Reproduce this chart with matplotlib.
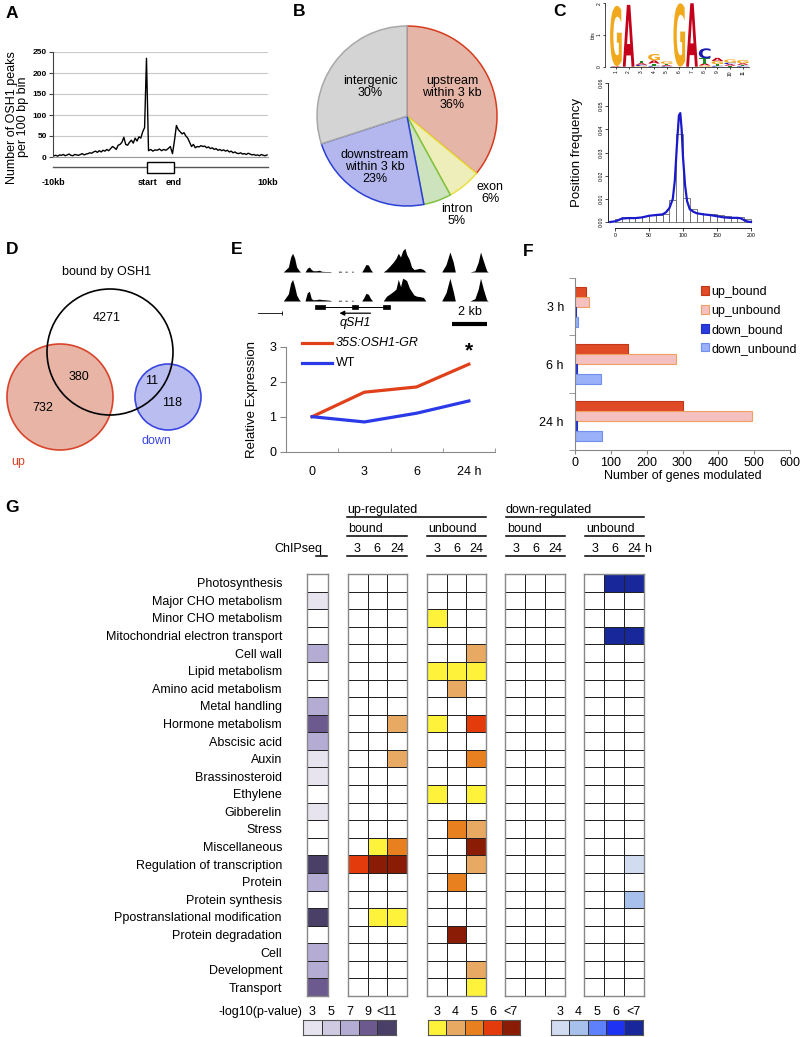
import numpy as np
import matplotlib
matplotlib.use('Agg')
import matplotlib.pyplot as plt
from matplotlib.colors import ListedColormap
from matplotlib.patches import Circle, Rectangle, PathPatch
from matplotlib.textpath import TextPath
from matplotlib.font_manager import FontProperties
from matplotlib.transforms import Affine2D

plt.rcParams['font.family'] = ['Liberation Sans', 'DejaVu Sans']

# ---------------- DATA ----------------
# A: OSH1 peak profile (peaks per 100 bp bin)
up_prof = [3, 4, 2, 5, 4, 6, 3, 5, 7, 4, 3, 6, 5, 4, 6, 8, 5, 7,
           8, 10, 9, 12, 14, 11, 15, 12, 16, 14, 18, 15, 20,
           25, 22, 18, 28, 30, 35, 47,
           30, 28, 35, 40, 33, 45, 38, 48, 45, 60, 70, 235]
gene_prof = [15, 18, 14, 17, 16, 19, 15, 18, 16, 20, 25, 8]
down_prof = [40, 75, 65, 60, 55, 58, 50, 45, 35, 25, 30,
             22, 25, 24, 27, 25, 26, 22, 24, 20, 22,
             18, 20, 16, 18, 15, 17, 14, 16, 12, 14,
             10, 12, 9, 8, 10, 7, 8, 6, 9, 7,
             5, 6, 4, 5, 3, 6, 4, 3, 5]
profile_ticklabels = ['-10kb', 'start', 'end', '10kb']

# B: peak distribution
pie_labels = ['upstream\nwithin 3 kb\n36%', 'exon\n6%', 'intron\n5%',
              'downstream\nwithin 3 kb\n23%', 'intergenic\n30%']
pie_vals = [36, 6, 5, 23, 30]

# C: motif logo (bits) and position frequency
logo_pos = [1, 2, 3, 4, 5, 6, 7, 8, 9, 10, 11]
logo_G = [1.9, 0.0, 0.02, 0.2, 0.08, 2.0, 0.0, 0.04, 0.1, 0.1, 0.1]
logo_A = [0.02, 1.95, 0.05, 0.1, 0.03, 0.0, 2.0, 0.06, 0.1, 0.05, 0.05]
logo_C = [0.0, 0.0, 0.04, 0.03, 0.02, 0.0, 0.0, 0.32, 0.03, 0.05, 0.03]
logo_T = [0.0, 0.0, 0.08, 0.07, 0.04, 0.0, 0.0, 0.16, 0.05, 0.03, 0.03]
hist_left = [0, 10, 20, 30, 40, 50, 60, 70, 80, 90, 100, 110, 120, 130, 140, 150, 160, 170, 180, 190]
hist_vals = [0.0015, 0.002, 0.002, 0.002, 0.0025, 0.003, 0.003, 0.0035, 0.0095, 0.038,
             0.0105, 0.0055, 0.004, 0.0035, 0.0033, 0.003, 0.0025, 0.002, 0.002, 0.0015]
dens_x = [-7, 0, 5, 10, 20, 30, 40, 50, 60, 70, 75, 80, 85, 88, 91, 94, 96, 98, 100, 103,
          106, 110, 115, 120, 130, 140, 150, 160, 170, 180, 185, 190, 195, 200]
dens_y = [0.0, 0.0003, 0.0008, 0.0015, 0.0017, 0.0017, 0.002, 0.0027, 0.003, 0.0033, 0.0042,
          0.006, 0.01, 0.018, 0.033, 0.046, 0.047, 0.04, 0.028, 0.016, 0.009, 0.0055, 0.0045,
          0.0038, 0.0033, 0.003, 0.0025, 0.002, 0.0018, 0.0018, 0.0016, 0.0008, 0.0002, 0.0]

# D: Venn counts
venn_labels = ['bound only', 'up & bound', 'up only', 'down & bound', 'down only']
venn_values = [4271, 380, 732, 11, 118]

# E: ChIP-seq tracks (kb, relative height) and qRT-PCR
track_x = [0, 0.29, 0.42, 0.53, 0.65, 0.76, 0.91, 0.99,
           1.24, 1.37, 1.49, 1.6, 1.71, 1.9, 2.06, 2.19, 2.38, 2.67, 2.76,
           3.14, 3.15, 3.32, 3.33, 3.52, 3.53, 3.65, 3.66, 3.9, 3.91, 3.99, 4.0,
           4.48, 4.61, 4.72, 4.86, 4.99, 5.1,
           5.71, 5.9, 6.1, 6.29, 6.44, 6.57, 6.7, 6.82, 6.95, 7.05, 7.2, 7.33, 7.47, 7.62, 7.81, 8.0, 8.15,
           9.05, 9.3, 9.52, 9.71, 9.83,
           10.67, 10.95, 11.14, 11.27, 11.43, 11.62, 11.71]
track1_h = [0, 0.2, 0.6, 0.75, 0.55, 0.2, 0.05, 0,
            0, 0.15, 0.2, 0.1, 0.05, 0.05, 0.07, 0.03, 0.02, 0.02, 0,
            0, 0.03, 0.03, 0, 0, 0.03, 0.03, 0, 0, 0.03, 0.03, 0,
            0, 0.15, 0.3, 0.28, 0.1, 0,
            0, 0.1, 0.25, 0.4, 0.55, 0.75, 0.6, 0.85, 0.95, 0.7, 0.5, 0.2, 0.1, 0.12, 0.15, 0.1, 0,
            0, 0.3, 0.8, 0.4, 0,
            0, 0.05, 0.4, 0.8, 0.45, 0.05, 0]
track2_h = [0, 0.3, 0.75, 0.9, 0.6, 0.25, 0.05, 0,
            0, 0.35, 0.4, 0.1, 0.05, 0.06, 0.08, 0.06, 0.05, 0.03, 0,
            0, 0.03, 0.03, 0, 0, 0.03, 0.03, 0, 0, 0.03, 0.03, 0,
            0, 0.15, 0.32, 0.28, 0.1, 0,
            0, 0.2, 0.3, 0.4, 0.5, 0.9, 0.6, 0.95, 0.9, 0.85, 0.55, 0.4, 0.25, 0.2, 0.18, 0.15, 0,
            0, 0.35, 0.95, 0.4, 0,
            0, 0.1, 0.5, 0.95, 0.5, 0.05, 0]
exon_start = [1.81, 3.9, 5.68]
exon_end = [2.38, 4.29, 6.1]
time_labels = ['0', '3', '6', '24 h']
expr_gr = [1.0, 1.7, 1.85, 2.5]
expr_wt = [1.0, 0.85, 1.1, 1.45]

# F: number of genes modulated
f_times = ['3 h', '6 h', '24 h']
f_series = ['up_bound', 'up_unbound', 'down_bound', 'down_unbound']
up_bound_n = [31, 148, 302]
up_unbound_n = [40, 282, 493]
down_bound_n = [2, 5, 5]
down_unbound_n = [7, 73, 75]

# G: enrichment heatmap (levels 0 = n.s., 1..5 = legend bins)
categories = ['Photosynthesis', 'Major CHO metabolism', 'Minor CHO metabolism',
              'Mitochondrial electron transport', 'Cell wall', 'Lipid metabolism',
              'Amino acid metabolism', 'Metal handling', 'Hormone metabolism', 'Abscisic acid',
              'Auxin', 'Brassinosteroid', 'Ethylene', 'Gibberelin', 'Stress', 'Miscellaneous',
              'Regulation of transcription', 'Protein', 'Protein synthesis',
              'Ppostranslational modification', 'Protein degradation', 'Cell', 'Development',
              'Transport']
chipseq = [0, 1, 0, 0, 3, 0, 0, 3, 4, 3, 1, 1, 0, 1, 0, 0, 5, 3, 0, 5, 0, 3, 3, 4]
up_bound = [[0, 0, 0], [0, 0, 0], [0, 0, 0], [0, 0, 0], [0, 0, 0], [0, 0, 0],
            [0, 0, 0], [0, 0, 0], [0, 0, 2], [0, 0, 0], [0, 0, 2], [0, 0, 0],
            [0, 0, 0], [0, 0, 0], [0, 0, 0], [0, 1, 3], [4, 5, 5], [0, 0, 0],
            [0, 0, 0], [0, 1, 1], [0, 0, 0], [0, 0, 0], [0, 0, 0], [0, 0, 0]]
up_unbound = [[0, 0, 0], [0, 0, 0], [1, 0, 0], [0, 0, 0], [0, 0, 2], [1, 1, 1],
              [0, 2, 0], [0, 0, 0], [1, 0, 4], [0, 0, 0], [0, 0, 3], [0, 0, 0],
              [1, 0, 1], [0, 0, 0], [0, 3, 2], [0, 0, 5], [0, 0, 2], [0, 3, 0],
              [0, 0, 0], [0, 0, 0], [0, 5, 0], [0, 0, 0], [0, 0, 2], [0, 0, 1]]
down_bound = [[0, 0, 0]] * 24
down_unbound = [[0, 5, 5], [0, 0, 0], [0, 0, 0], [0, 5, 5], [0, 0, 0], [0, 0, 0],
                [0, 0, 0], [0, 0, 0], [0, 0, 0], [0, 0, 0], [0, 0, 0], [0, 0, 0],
                [0, 0, 0], [0, 0, 0], [0, 0, 0], [0, 0, 0], [0, 0, 1], [0, 0, 0],
                [0, 0, 2], [0, 0, 0], [0, 0, 0], [0, 0, 0], [0, 0, 0], [0, 0, 0]]
purple_labels = ['3', '5', '7', '9', '<11']
orange_labels = ['3', '4', '5', '6', '<7']
blue_labels = ['3', '4', '5', '6', '<7']

# ---------------- STYLE ----------------
PURPLES = ['#e7e4f0', '#cfc9e2', '#b5acd3', '#6c5a8f', '#4a3f66']
ORANGES = ['#fef33a', '#e8aa62', '#e8801f', '#e33b0c', '#8a1c05']
BLUES = ['#d1dcf1', '#a7c1ec', '#5f80fb', '#1e32f4', '#18279a']
RED = '#e0401a'
BLUE = '#2a3ae8'

W, H = 800, 1037
fig = plt.figure(figsize=(W / 100, H / 100), dpi=100)


def ax_px(x0, y0, x1, y1):
    return fig.add_axes([x0 / W, 1 - y1 / H, (x1 - x0) / W, (y1 - y0) / H])


ov = ax_px(0, 0, W, H)
ov.set_xlim(0, W)
ov.set_ylim(H, 0)
ov.axis('off')
ov.patch.set_visible(False)
ov.set_zorder(10)

for lab, (lx, ly) in zip('ABCDEFG', [(12, 13), (299, 12), (560, 12), (12, 250),
                                      (237, 250), (528, 252), (12, 507)]):
    ov.text(lx, ly, lab, fontsize=12.5, fontweight='bold', ha='center', va='center')

# ---------------- A ----------------
GENE_W = 2.77
axA = ax_px(53, 52, 268, 157)
n_up, n_g, n_d = len(up_prof), len(gene_prof), len(down_prof)
xa = np.concatenate([-10 + 10 * (np.arange(n_up) + 0.5) / n_up,
                     GENE_W * (np.arange(n_g) + 0.5) / n_g,
                     GENE_W + 10 * (np.arange(n_d) + 0.5) / n_d])
ya = np.concatenate([up_prof, gene_prof, down_prof])
axA.plot(xa, ya, color='black', lw=1.0)
axA.set_xlim(-10, 10 + GENE_W)
axA.set_ylim(0, 250)
axA.set_yticks([0, 50, 100, 150, 200, 250])
axA.yaxis.grid(True, color='#c8c8c8', lw=0.8)
axA.set_axisbelow(True)
for s in ['top', 'right']:
    axA.spines[s].set_visible(False)
axA.spines['left'].set_color('#444')
axA.spines['bottom'].set_color('#999')
narrow = ['Liberation Sans Narrow', 'Liberation Sans', 'DejaVu Sans']
axA.tick_params(axis='y', labelsize=6, length=3, color='#444', pad=1.5)
for t in axA.get_yticklabels():
    t.set_fontfamily(narrow)
    t.set_fontweight('bold')
axA.set_xticks([-10, 0, GENE_W, 10 + GENE_W])
axA.set_xticklabels(profile_ticklabels, fontsize=6.5, fontweight='bold', family=narrow)
axA.tick_params(axis='x', length=0, pad=15)
ypx = 250 / 105.0
axA.plot([-10, 10 + GENE_W], [-10 * ypx, -10 * ypx], color='#555', lw=1, clip_on=False)
axA.add_patch(Rectangle((0, -15.5 * ypx), GENE_W, 11 * ypx, fc='white', ec='black',
                        lw=1, clip_on=False, zorder=3))
axA.set_ylabel('Number of OSH1 peaks\nper 100 bp bin', fontsize=9, linespacing=0.9)
axA.yaxis.set_label_coords(-0.11, 0.38)

# ---------------- B ----------------
R = 90.0
axB = ax_px(407 - 92, 116 - 92, 407 + 92, 116 + 92)
pie_fill = ['#e5b5a8', '#eeeebb', '#cde3bd', '#b3b7ee', '#d4d4d4']
pie_edge = ['#d63b1e', '#e8e040', '#7fc040', '#2b3fd6', '#a8a8a8']
wedges, _ = axB.pie(pie_vals, startangle=90, counterclock=False, colors=pie_fill,
                    wedgeprops=dict(linewidth=1.1))
for w, ec in zip(wedges, pie_edge):
    w.set_edgecolor(ec)
axB.set_xlim(-92 / R, 92 / R)
axB.set_ylim(-92 / R, 92 / R)
pie_txt_pos = [(452, 93), (490, 193), (457, 215), (375, 167), (370, 87)]
for lab, (px, py) in zip(pie_labels, pie_txt_pos):
    axB.text((px - 407) / R, (116 - py) / R, lab, ha='center', va='center', fontsize=9,
             linespacing=1.0, clip_on=False)

# ---------------- C ----------------
axL = ax_px(609.6, 3.3, 749, 66.7)
axL.set_xlim(0.5, 11.5)
axL.set_ylim(0, 2)
letter_color = {'G': '#f0a81c', 'A': '#c4001a', 'C': '#1a1ab0', 'T': '#1f8a1f'}
fp = FontProperties(family='DejaVu Sans', weight='bold')
for i, pos in enumerate(logo_pos):
    stack = [('G', logo_G[i]), ('A', logo_A[i]), ('C', logo_C[i]), ('T', logo_T[i])]
    stack = sorted([s for s in stack if s[1] > 0], key=lambda s: s[1])
    ybase = 0.0
    for letter, h in stack:
        tp = TextPath((0, 0), letter, size=1, prop=fp)
        bb = tp.get_extents()
        tr = (Affine2D().translate(-bb.x0, -bb.y0)
              .scale(0.92 / bb.width, h / bb.height)
              .translate(pos - 0.46, ybase))
        axL.add_patch(PathPatch(tr.transform_path(tp), fc=letter_color[letter], ec='none'))
        ybase += h
for s in ['top', 'right']:
    axL.spines[s].set_visible(False)
axL.spines['left'].set_position(('outward', 3))
axL.spines['left'].set_linewidth(0.5)
axL.spines['bottom'].set_linewidth(0.5)
axL.set_yticks([0, 1, 2])
axL.set_xticks(logo_pos)
axL.tick_params(labelsize=3.5, length=1.5, width=0.5, pad=1)
for t in axL.get_xticklabels():
    t.set_rotation(90)
for t in axL.get_yticklabels():
    t.set_rotation(90)
    t.set_va('center')
axL.set_ylabel('bits', fontsize=3.5, labelpad=1)

axF = ax_px(612.3, 79.5, 753.7, 225.5)
axF.bar(hist_left, hist_vals, width=10, align='edge', fc='white', ec='#666', lw=0.6)
axF.plot(dens_x, dens_y, color='#1a1acc', lw=1.6, clip_on=False)
axF.set_xlim(-4, 204)
axF.set_ylim(-0.0015, 0.0615)
for s in ['top', 'right']:
    axF.spines[s].set_visible(False)
axF.spines['left'].set_position(('outward', 3))
axF.spines['bottom'].set_position(('outward', 2))
axF.spines['left'].set_bounds(0, 0.06)
axF.spines['bottom'].set_bounds(0, 200)
for s in ['left', 'bottom']:
    axF.spines[s].set_linewidth(0.6)
axF.set_yticks([0, 0.01, 0.02, 0.03, 0.04, 0.05, 0.06])
axF.set_yticklabels(['0.00', '0.01', '0.02', '0.03', '0.04', '0.05', '0.06'])
axF.set_xticks([0, 50, 100, 150, 200])
axF.tick_params(labelsize=3.8, length=2, width=0.5, pad=1.5)
for t in axF.get_yticklabels():
    t.set_rotation(90)
    t.set_va('center')
axF.set_ylabel('Position frequency', fontsize=9.5, labelpad=11)

# ---------------- D ----------------
ov.add_patch(Circle((60, 397), 53, fc='#e8b4a6', ec='#d8442a', lw=1.2))
ov.add_patch(Circle((168, 397), 33, fc='#b9bdf0', ec='#3a46e0', lw=1.2))
ov.add_patch(Circle((110, 352), 63, fill=False, ec='black', lw=1.2))
ov.text(107, 272, 'bound by OSH1', fontsize=9, ha='center', va='center')
for val, (px, py) in zip(venn_values, [(107, 318), (79, 377), (43, 408), (152, 381), (172, 403)]):
    ov.text(px, py, str(val), fontsize=9, ha='center', va='center')
ov.text(18, 462, 'up', fontsize=9, color='#d8442a', ha='center', va='center')
ov.text(156, 441, 'down', fontsize=9, color='#3a46e0', ha='center', va='center')

# ---------------- E ----------------
kb_px = 17.5
x0_px = 283.3


def kb(px):
    return (px - x0_px) / kb_px


for (ty0, ty1, hh) in [(247, 272, track1_h), (277, 301, track2_h)]:
    axT = ax_px(270, ty0, 500, ty1)
    axT.fill_between(track_x, 0, hh, color='black', lw=0)
    axT.set_xlim(kb(270), kb(500))
    axT.set_ylim(0, 1)
    axT.axis('off')

axG = ax_px(250, 302, 500, 330)
axG.set_xlim(kb(250), kb(500))
axG.set_ylim(0, 1)
axG.axis('off')
axG.plot([exon_end[0], exon_start[2]], [0.82, 0.82], color='black', lw=0.7)
for s, e in zip(exon_start, exon_end):
    axG.add_patch(Rectangle((s, 0.74), e - s, 0.16, fc='black', ec='black', lw=0.5))
axG.annotate('', xy=(3.05, 0.60), xytext=(5.14, 0.60),
             arrowprops=dict(arrowstyle='-|>', color='black', lw=0.9, mutation_scale=7))
axG.text(4.1, 0.25, 'qSH1', fontsize=9, style='italic', ha='center', va='center')
axG.plot([kb(258), kb(282)], [0.61, 0.61], color='black', lw=0.6)
axG.plot([kb(282)], [0.61], marker='|', color='black', ms=3, mew=0.6)
axG.plot([kb(452), kb(487)], [0.2, 0.2], color='black', lw=3, solid_capstyle='butt')
axG.text(kb(469.5), 0.66, '2 kb', fontsize=9, ha='center', va='center')

axE = ax_px(286, 346.7, 495, 451.7)
tx = np.arange(len(time_labels))
axE.plot(tx, expr_gr, color=RED, lw=2.3)
axE.plot(tx, expr_wt, color=BLUE, lw=2.3)
axE.set_xlim(-0.5, 3.5)
axE.set_ylim(0, 3)
axE.set_yticks([0, 1, 2, 3])
axE.set_xticks(tx)
axE.set_xticklabels(time_labels)
axE.set_xticks([-0.5, 0.5, 1.5, 2.5, 3.5], minor=True)
axE.tick_params(axis='x', which='major', length=0, pad=10, labelsize=9)
axE.tick_params(axis='x', which='minor', length=3, direction='in', color='#888')
axE.tick_params(axis='y', length=4, color='#888', labelsize=9, pad=3)
for s in ['top', 'right']:
    axE.spines[s].set_visible(False)
for s in ['left', 'bottom']:
    axE.spines[s].set_color('#888')
axE.text(3, 2.62, '*', fontsize=15, fontweight='bold', ha='center', va='bottom')
axE.set_ylabel('Relative Expression', fontsize=9.5, labelpad=8)
ov.plot([302, 332], [343, 343], color=RED, lw=2.3)
ov.plot([302, 332], [363, 363], color=BLUE, lw=2.3)
ov.text(336, 343, '35S:OSH1-GR', fontsize=9, style='italic', va='center')
ov.text(336, 363, 'WT', fontsize=9, va='center')

# ---------------- F ----------------
axFb = ax_px(575, 278, 790, 450)
fy = np.arange(len(f_times))
bh = 0.175
f_fc = ['#e04a26', '#f4c0c0', '#2a3ce0', '#9ab0f8']
f_ec = ['#c03818', '#f0a060', '#2030c0', '#7090f0']
for k, vals in enumerate([up_bound_n, up_unbound_n, down_bound_n, down_unbound_n]):
    axFb.barh(fy + (k - 1.5) * bh, vals, height=bh, color=f_fc[k], edgecolor=f_ec[k],
              lw=0.8, label=f_series[k])
axFb.set_xlim(0, 600)
axFb.set_ylim(2.5, -0.5)
axFb.set_xticks([0, 100, 200, 300, 400, 500, 600])
axFb.set_yticks(fy)
axFb.set_yticklabels(f_times)
axFb.set_yticks([-0.5, 0.5, 1.5, 2.5], minor=True)
axFb.tick_params(axis='y', which='major', length=0, pad=8, labelsize=9)
axFb.tick_params(axis='y', which='minor', length=4, color='#888')
axFb.tick_params(axis='x', length=3, color='#888', labelsize=9, pad=2)
for s in ['top', 'right']:
    axFb.spines[s].set_visible(False)
for s in ['left', 'bottom']:
    axFb.spines[s].set_color('#888')
axFb.set_xlabel('Number of genes modulated', fontsize=9, labelpad=1)
axFb.legend(loc='upper left', bbox_to_anchor=(701 / W, 1 - 286 / H),
            bbox_transform=fig.transFigure, frameon=False, fontsize=9,
            handlelength=0.65, handleheight=0.65, handletextpad=0.15, labelspacing=0.55,
            borderpad=0, borderaxespad=0)

# ---------------- G ----------------
ROW_TOP, ROW_BOT = 574, 996


def heat_block(x0, x1, data, colors):
    ax = ax_px(x0, ROW_TOP, x1, ROW_BOT)
    arr = np.array(data, dtype=float)
    if arr.ndim == 1:
        arr = arr[:, None]
    cmap = ListedColormap(['white'] + colors)
    ax.pcolormesh(arr, cmap=cmap, vmin=-0.5, vmax=5.5, edgecolors='#222', linewidth=0.5)
    ax.set_xlim(0, arr.shape[1])
    ax.set_ylim(arr.shape[0], 0)
    ax.set_xticks([])
    ax.set_yticks([])
    for s in ax.spines.values():
        s.set_color('#888')
        s.set_linewidth(1.0)
    return ax


axC = heat_block(307, 328, chipseq, PURPLES)
axC.set_yticks(np.arange(len(categories)) + 0.5)
axC.set_yticklabels(categories, fontsize=9)
axC.tick_params(axis='y', length=0, pad=18)
heat_block(348, 407, up_bound, ORANGES)
heat_block(427, 486, up_unbound, ORANGES)
heat_block(505, 565, down_bound, BLUES)
heat_block(584, 644, down_unbound, BLUES)

hdr = dict(fontsize=9, va='center', ha='left')
ov.text(347, 510, 'up-regulated', **hdr)
ov.plot([347, 486], [517, 517], color='black', lw=1.1)
ov.text(506, 510, 'down-regulated', **hdr)
ov.plot([506, 644], [517, 517], color='black', lw=1.1)
for gx0, gx1, name in [(347, 407, 'bound'), (427, 486, 'unbound'),
                       (506, 565, 'bound'), (585, 644, 'unbound')]:
    ov.text(gx0 + 1, 529, name, **hdr)
    ov.plot([gx0, gx1], [536, 536], color='black', lw=1.1)
    ov.plot([gx0, gx1], [556, 556], color='black', lw=1.1)
    cw = (gx1 - gx0) / 3.0
    for j, tl in enumerate(['3', '6', '24']):
        ov.text(gx0 + cw * (j + 0.5), 549, tl, fontsize=9, ha='center', va='center')
ov.text(644, 549, 'h', fontsize=9, ha='left', va='center')
ov.text(298, 549, 'ChIPseq', fontsize=9, ha='center', va='center')
ov.plot([316, 327], [556, 556], color='black', lw=1.1)


def legend_bar(x0, x1, colors, labels):
    ax = ax_px(x0, 1020, x1, 1035)
    ax.pcolormesh(np.arange(1, 6)[None, :], cmap=ListedColormap(colors), vmin=0.5, vmax=5.5,
                  edgecolors='#333', linewidth=0.6)
    ax.set_xlim(0, 5)
    ax.set_ylim(0, 1)
    ax.xaxis.tick_top()
    ax.set_xticks(np.arange(5) + 0.5)
    ax.set_xticklabels(labels, fontsize=9)
    ax.tick_params(length=0, pad=1.5)
    ax.set_yticks([])
    for s in ax.spines.values():
        s.set_color('#555')
    return ax


legend_bar(303, 396, PURPLES, purple_labels)
legend_bar(428, 520, ORANGES, orange_labels)
legend_bar(551, 643, BLUES, blue_labels)
ov.text(302, 1012, '-log10(p-value)', fontsize=9, ha='right', va='center')

fig.savefig('out.png', dpi=100)
